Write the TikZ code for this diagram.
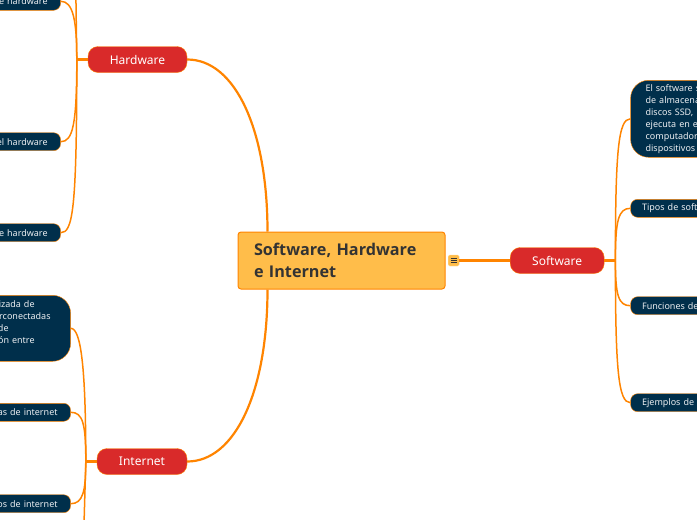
\documentclass[tikz,border=0pt]{standalone}
\usepackage{fontspec}
\setmainfont{Noto Sans}
\newfontfamily\rootfont{Open Sans}
\usetikzlibrary{positioning}
\definecolor{linecol}{HTML}{FF8400}
\definecolor{rootcol}{HTML}{FFBD4A}
\definecolor{branchcol}{HTML}{D92A2A}
\definecolor{leafcol}{HTML}{002F4B}
\definecolor{rootink}{HTML}{333333}
\tikzset {
  % path styles
  main link/.style = {
    draw = linecol,
    line width = 2.2pt
  },
  leaf link/.style = {
    draw = linecol,
    line width = 1.5pt
  },
  icon line/.style = {
    draw = rootink,
    line width = 0.7pt
  }
}
\tikzset {
  map node/.style = {
    draw = linecol,
    inner ysep = 0pt
  },
  % central topic
  root/.style = {
    map node,
    fill = rootcol,
    text = rootink,
    rounded corners = 3pt,
    line width = 1pt,
    minimum width = 207pt,
    minimum height = 57pt,
    text width = 175pt,
    inner xsep = 16pt,
    font = \fontsize{16.2}{22}\rootfont\bfseries
  },
  % main topic
  branch/.style = {
    map node,
    fill = branchcol,
    text = white,
    rounded corners = 10pt,
    minimum height = 26pt,
    font = \fontsize{12}{14}\selectfont
  },
  % sub topic, cut by the page edge
  leaf/.style = {
    map node,
    fill = leafcol,
    text = white!92!leafcol,
    rounded corners = 7pt,
    minimum height = 18pt,
    text width = 120pt,
    font = \fontsize{9}{12}\selectfont
  },
  leaf left/.style = {
    leaf,
    inner xsep = 13pt,
    align = right
  },
  leaf right/.style = {
    leaf,
    inner xsep = 11.5pt,
    align = left
  },
  note/.style = {
    rounded corners = 18pt
  }
}
\begin{document}
\begin{tikzpicture}[x=1pt, y=-1pt]
    \useasboundingbox (0,0) rectangle (697,520);
    \clip (0,0) rectangle (697,520);

    \node[root] (root) at (341.5,260.5) {Software, Hardware\\e Internet};
    \node[draw=rootcol!60!white, fill=rootcol, rounded corners=1.5pt, minimum size=11pt, inner sep=0pt] (root-icon) [right=2.5pt of root] {};
    \foreach \dy in {-2.2,0,2.2} {
      \draw[icon line] ([yshift=\dy pt, xshift=-3pt]root-icon.center) -- ([yshift=\dy pt, xshift=3pt]root-icon.center);
    }

    \node[branch, minimum width=94pt] (software) [right=64.5pt of root] {Software};
    \node[branch, minimum width=99pt] (hardware) at (137.5,59.5) {Hardware};
    \node[branch, minimum width=90pt] (internet) at (142,461.5) {Internet};

    \coordinate [right=11pt of software] (software-hub);
    \coordinate [left=11pt of hardware] (hardware-hub);
    \coordinate [left=11pt of internet] (internet-hub);

    \node[leaf right, note, minimum height=77pt, inner xsep=15pt] (software-about) [above right=103pt and 15pt of software-hub] {El software s\\de almacena\\discos SSD,\\ejecuta en e\\computador\\dispositivos};
    \node[leaf right] (software-types) [above right=43pt and 15pt of software-hub] {Tipos de soft};
    \node[leaf right] (software-uses) [below right=36pt and 15pt of software-hub] {Funciones de};
    \node[leaf right] (software-samples) [below right=133pt and 15pt of software-hub] {Ejemplos de};

    \coordinate [above left=70pt and 1pt of hardware-hub] (hardware-up);
    \node[leaf left] (hardware-first) [above left=49pt and 16pt of hardware-hub] {e hardware};
    \node[leaf left] (hardware-second) [below left=73pt and 16pt of hardware-hub] {el hardware};
    \node[leaf left] (hardware-third) [below left=164pt and 16pt of hardware-hub] {e hardware};

    \node[leaf left, note, minimum height=66pt] (internet-about) [above left=100pt and 15pt of internet-hub] {izada de\rule{23pt}{0pt}\\rconectadas\rule{7pt}{0pt}\\de\rule{49pt}{0pt}\\ón entre\rule{23pt}{0pt}\\\mbox{}};
    \node[leaf left] (internet-first) [above left=40pt and 15pt of internet-hub] {as de internet};
    \node[leaf left] (internet-second) [below left=33pt and 15pt of internet-hub] {os de internet};
    \coordinate [below left=70pt and 2pt of internet-hub] (internet-down);

    \draw[main link] (root-icon) -- (software);
    \draw[main link] (hardware.east) .. controls +(48,0) and +(0,-102) .. ([xshift=30pt]root.north west);
    \draw[main link] (internet.east) .. controls +(48,0) and +(0,102) .. ([xshift=30pt]root.south west);

    \draw[main link] (software) -- (software-hub);
    \draw[main link] (hardware) -- (hardware-hub);
    \draw[main link] (internet) -- (internet-hub);

    \draw[leaf link] (software-hub) .. controls +(0,-110) and +(-12,0) .. (software-about.west);
    \draw[leaf link] (software-hub) .. controls +(0,-40) and +(-12,0) .. (software-types.west);
    \draw[leaf link] (software-hub) .. controls +(0,35) and +(-12,0) .. (software-uses.west);
    \draw[leaf link] (software-hub) .. controls +(0,110) and +(-12,0) .. (software-samples.west);

    \draw[leaf link] (hardware-hub) -- (hardware-up);
    \draw[leaf link] (hardware-hub) .. controls +(0,-40) and +(12,0) .. (hardware-first.east);
    \draw[leaf link] (hardware-hub) .. controls +(0,65) and +(12,0) .. (hardware-second.east);
    \draw[leaf link] (hardware-hub) .. controls +(0,150) and +(12,0) .. (hardware-third.east);

    \draw[leaf link] (internet-hub) .. controls +(0,-95) and +(10,0) .. (internet-about.east);
    \draw[leaf link] (internet-hub) .. controls +(0,-38) and +(12,0) .. (internet-first.east);
    \draw[leaf link] (internet-hub) .. controls +(0,30) and +(12,0) .. (internet-second.east);
    \draw[leaf link] (internet-hub) -- (internet-down);
  \end{tikzpicture}
\end{document}
